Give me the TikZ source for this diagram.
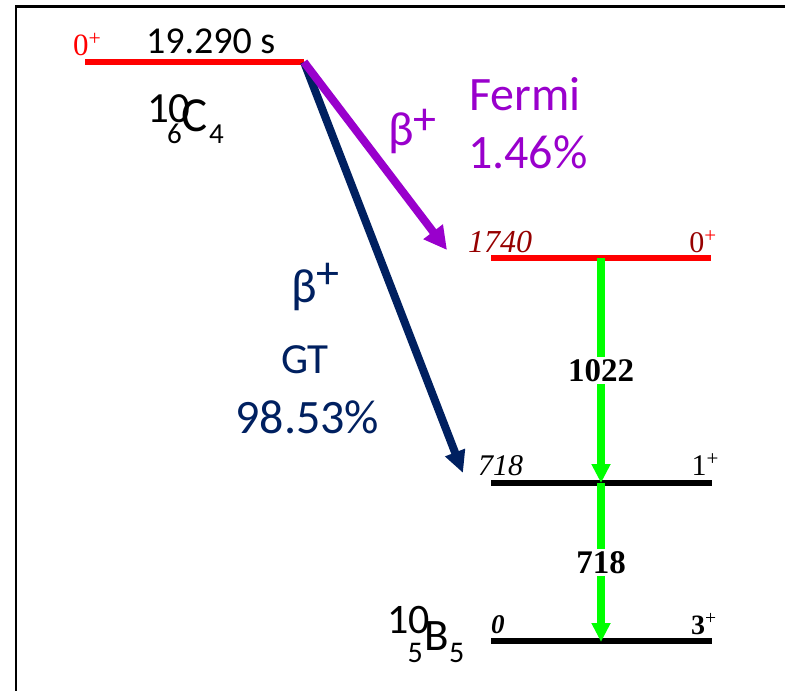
\documentclass[tikz,border=0pt]{standalone}
\usepackage{fontspec}
\setmainfont{Liberation Serif}
\newfontfamily\calfont{Carlito}
\usetikzlibrary{arrows.meta}
\definecolor{fred}{RGB}{255,0,0}
\definecolor{dred}{RGB}{150,0,0}
\definecolor{fpurple}{RGB}{153,0,204}
\definecolor{fnavy}{RGB}{0,32,96}
\definecolor{fgreen}{RGB}{0,255,0}
\newcommand{\fs}[1]{\fontsize{#1}{#1}\selectfont}
\newcommand{\placeat}[3]{\rlap{\hspace{#1}\raisebox{#2}{#3}}}
\begin{document}
\begin{tikzpicture}[x=1pt,y=-1pt,
  txt/.style={anchor=base west,inner sep=0pt,outer sep=0pt},
  lev/.style={line width=6pt},
  decay/.style={line width=8pt},
  gam/.style={line width=8pt,fgreen,-{Triangle[length=19pt,width=18pt]}},
  glab/.style={fill=white,inner sep=2pt,font=\fs{33}\bfseries}]
\useasboundingbox (0,0) rectangle (785,691);
% frame
\draw[line width=2.6pt] (16,691) -- (16,6.5) -- (785,6.5);
% level coordinates
\coordinate (cL) at (85,62);   \coordinate (cR) at (304,62);
\coordinate (aL) at (491,258); \coordinate (aR) at (711,258); \coordinate (aM) at (601,258);
\coordinate (bL) at (491,483); \coordinate (bR) at (712,483); \coordinate (bM) at (601,483);
\coordinate (gL) at (491,641); \coordinate (gR) at (712,641); \coordinate (gM) at (601,642);
\coordinate (fEnd) at (447,250);
\coordinate (tEnd) at (463,473);
% levels
\draw[lev,fred] (cL) -- (cR);
\draw[lev,fred] (aL) -- (aR);
\draw[lev,black] (bL) -- (bR);
\draw[lev,black] (gL) -- (gR);
% beta arrows
\draw[decay,fnavy,-{Triangle[length=22pt,width=20pt]}] (cR) -- (tEnd);
\draw[decay,fpurple,-{Triangle[length=23pt,width=23pt]}] (cR) -- (fEnd);
% gamma arrows
\draw[gam] (aM) -- node[glab,text=black] (g1) {1022} (bM);
\draw[gam] (bM) -- node[glab,text=black] (g2) {718} (gM);
% parent
\node[txt,text=fred,font=\fs{31}] (p0) at (73,55) {0\textsuperscript{+}};
\node[txt,font=\calfont\fs{38}] (hl) at (146,53) {19.290 s};
\node[txt,font=\calfont] (cIso) at (146.5,131)
  {\placeat{0pt}{9pt}{\fs{43}10}\placeat{20pt}{-12pt}{\fs{29}6}\placeat{34.5pt}{0pt}{\fs{49}C}\placeat{62pt}{-12pt}{\fs{29}4}\hspace{78pt}};
% Fermi labels
\node[txt,text=fpurple,font=\calfont\fs{48}] (fb) at (388,145) {β\placeat{0pt}{11pt}{\fs{46}+}\hspace{21pt}};
\node[txt,text=fpurple,font=\calfont\fs{48}] (ff) at (469,110) {Fermi};
\node[txt,text=fpurple,font=\calfont\fs{48}] (fr) at (468,168) {1.46\%};
% GT labels
\node[txt,text=fnavy,font=\calfont\fs{48}] (tb) at (291,302) {β\placeat{0pt}{14pt}{\fs{46}+}\hspace{21pt}};
\node[txt,text=fnavy,font=\calfont\fs{43}] (tg) at (281,373) {GT};
\node[txt,text=fnavy,font=\calfont\fs{48}] (tr) at (235.5,433) {98.53\%};
% 1740 level
\node[txt,text=dred,font=\fs{32}\itshape] (ae) at (468,252) {1740};
\node[txt,font=\fs{30}] (aj) at (689.3,252) {\textcolor{dred}{0}\textsuperscript{\textcolor{fred}{+}}};
% 718 level
\node[txt,font=\fs{30}\itshape] (be) at (478,475) {718};
\node[txt,font=\fs{30}] (bj) at (691.7,475) {1\textsuperscript{+}};
% ground level
\node[txt,font=\fs{27}\bfseries\itshape] (ge) at (491,633) {0};
\node[txt,font=\fs{28}\bfseries] (gj) at (691,634) {3\textsuperscript{\mdseries +}};
\node[txt,font=\calfont] (bIso) at (386.5,650)
  {\placeat{0pt}{17pt}{\fs{42}10}\placeat{20.5pt}{-12pt}{\fs{30}5}\placeat{37pt}{0pt}{\fs{45}B}\placeat{62pt}{-12pt}{\fs{30}5}\hspace{78pt}};
\end{tikzpicture}
\end{document}
